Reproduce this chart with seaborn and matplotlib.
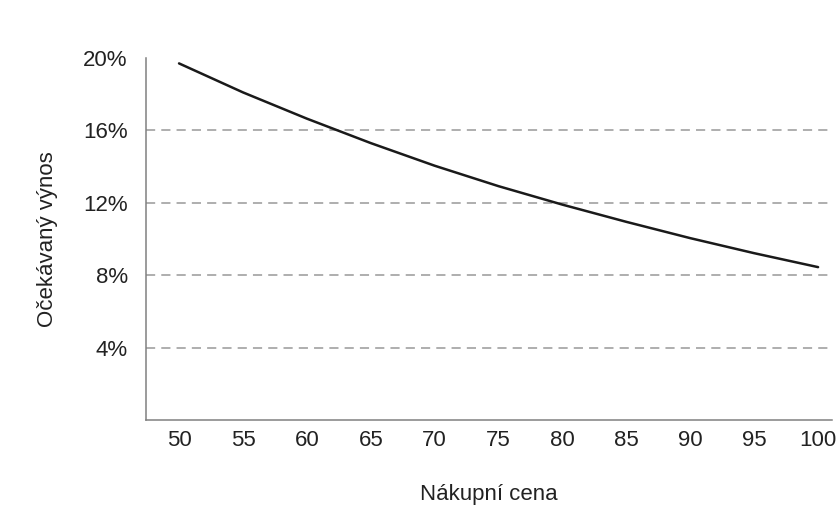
import matplotlib
matplotlib.use("Agg")
import matplotlib.pyplot as plt
import seaborn as sns
import pandas as pd
from matplotlib.ticker import FuncFormatter

price = [50, 55, 60, 65, 70, 75, 80, 85, 90, 95, 100]
expected_yield = [19.7, 18.1, 16.65, 15.3, 14.05, 12.92, 11.9, 10.95, 10.05, 9.22, 8.45]
y_ticks = [4, 8, 12, 16, 20]
x_ticks = [50, 55, 60, 65, 70, 75, 80, 85, 90, 95, 100]

sns.set_theme(style="white")
plt.rcParams['font.family'] = ['Liberation Sans', 'DejaVu Sans']

df = pd.DataFrame({"price": price, "yield": expected_yield})

fig = plt.figure(figsize=(8.38, 5.13), dpi=100)
ax = fig.add_axes([0.174, 0.181, 0.819, 0.706])

for t in y_ticks[:-1]:
    ax.axhline(t, color="#999999", linestyle=(0, (6, 4)), linewidth=1.1, zorder=1)

sns.lineplot(data=df, x="price", y="yield", ax=ax, color="#1a1a1a", linewidth=1.8, zorder=3)
for l in ax.get_lines():
    l.set_solid_joinstyle("round")
    l.set_solid_capstyle("round")

ax.set_xlim(47.4, 101.1)
ax.set_ylim(0, 20)
ax.set_xticks(x_ticks)
ax.set_yticks(y_ticks)
ax.yaxis.set_major_formatter(FuncFormatter(lambda v, p: f"{v:.0f}%"))
ax.tick_params(axis="both", length=0, labelsize=16, colors="#222222")
ax.tick_params(axis="x", pad=7)
ax.tick_params(axis="y", pad=13)

for s in ["top", "right"]:
    ax.spines[s].set_visible(False)
for s in ["left", "bottom"]:
    ax.spines[s].set_color("#808080")
    ax.spines[s].set_linewidth(1.1)

ax.set_xlabel("Nákupní cena", fontsize=16, color="#222222", labelpad=24)
ax.set_ylabel("Očekávaný výnos", fontsize=16, color="#222222", labelpad=18)

fig.savefig("out.png", dpi=100, facecolor="white")
